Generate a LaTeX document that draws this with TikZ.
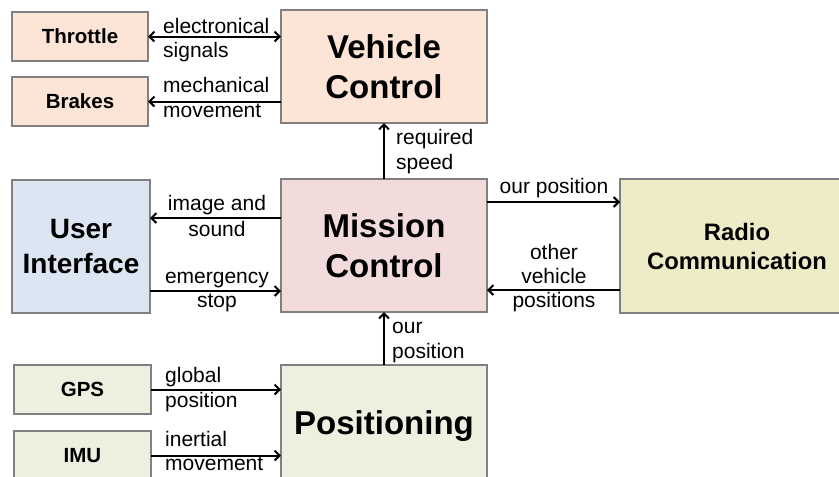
\documentclass[tikz,border=0pt]{standalone}
\usepackage{fontspec}
\setmainfont{Liberation Sans}
\usetikzlibrary{arrows.meta}

\definecolor{peach}{RGB}{252,228,214}
\definecolor{skyfill}{RGB}{220,230,242}
\definecolor{rosefill}{RGB}{242,220,219}
\definecolor{sagefill}{RGB}{235,241,222}
\definecolor{strawfill}{RGB}{238,236,199}
\definecolor{edgegray}{RGB}{128,128,128}

\tikzset{
  block/.style={draw=edgegray, line width=1.2pt, fill=#1, inner sep=0pt,
    outer sep=0pt, align=center},
  smallblock/.style={block=#1, font=\bfseries\fontsize{20.5}{24}\selectfont},
  bigblock/.style={block=#1, font=\bfseries\fontsize{33}{40}\selectfont},
  flow/.style={line width=2pt, -{Straight Barb[length=5pt,width=10pt]}},
  flowboth/.style={line width=2pt, {Straight Barb[length=5pt,width=10pt]}-{Straight Barb[length=5pt,width=10pt]}},
  lbl/.style={inner sep=0pt, font=\fontsize{21}{24}\selectfont},
}

\begin{document}
\begin{tikzpicture}[x=1pt, y=-1pt]
\useasboundingbox (0,0) rectangle (839,477);

% ---- blocks ----
\node[smallblock=peach, minimum width=136pt, minimum height=49pt] (thr) at (80,36.5) {Throttle};
\node[smallblock=peach, minimum width=136pt, minimum height=49pt] (brk) at (80,101.5) {Brakes};
\node[bigblock=peach, minimum width=206pt, minimum height=113pt] (vc) at (384,66.5) {Vehicle\\Control};

\node[block=skyfill, font=\bfseries\fontsize{28}{35}\selectfont,
      minimum width=138pt, minimum height=133pt] (ui) at (81,246.5) {User\\Interface};
\node[bigblock=rosefill, minimum width=206pt, minimum height=133pt] (mc) at (384,245.5) {Mission\\Control};
\node[block=strawfill, font=\bfseries\fontsize{23.8}{29}\selectfont,
      minimum width=234pt, minimum height=134pt] (radio) at (737,246) {Radio\\Communication};

\node[smallblock=sagefill, minimum width=137pt, minimum height=49pt] (gps) at (82.5,389.5) {GPS};
\node[smallblock=sagefill, minimum width=137pt, minimum height=49pt] (imu) at (82.5,455.5) {IMU};
\node[bigblock=sagefill, minimum width=206pt, minimum height=122pt] (pos) at (384,426) {Positioning};

% ---- rows used by the horizontal connectors ----
\coordinate (rowImage) at (0,218);
\coordinate (rowStop) at (0,291);
\coordinate (rowOut) at (0,202);
\coordinate (rowIn) at (0,290);

% ---- connectors ----
\draw[flowboth] (thr) -- (vc.west |- thr);
\draw[flow] (vc.west |- brk) -- (brk);
\draw[flow] (mc.north) -- (vc.south);
\draw[flow] (mc.west |- rowImage) -- (ui.east |- rowImage);
\draw[flow] (ui.east |- rowStop) -- (mc.west |- rowStop);
\draw[flow] (mc.east |- rowOut) -- (radio.west |- rowOut);
\draw[flow] (radio.west |- rowIn) -- (mc.east |- rowIn);
\draw[flow] (pos.north) -- (mc.south);
\draw[flow] (gps) -- (pos.west |- gps);
\draw[flow] (imu) -- (pos.west |- imu);

% ---- connector labels ----
\node[lbl, anchor=base west] (l1a) at (163,33) {electronical};
\node[lbl, anchor=base west] (l1b) at (163,57) {signals};
\node[lbl, anchor=base west] (l2a) at (163,92) {mechanical};
\node[lbl, anchor=base west] (l2b) at (163,117) {movement};
\node[lbl, anchor=base west] (l3a) at (396,144) {required};
\node[lbl, anchor=base west] (l3b) at (396,169) {speed};
\node[lbl, anchor=base] (l4a) at (217,210) {image and};
\node[lbl, anchor=base] (l4b) at (217,236) {sound};
\node[lbl, anchor=base] (l5a) at (217,283) {emergency};
\node[lbl, anchor=base] (l5b) at (217,307) {stop};
\node[lbl, anchor=base] (l6) at (554,193) {our position};
\node[lbl, anchor=base] (l7a) at (554,259) {other};
\node[lbl, anchor=base] (l7b) at (554,283) {vehicle};
\node[lbl, anchor=base] (l7c) at (554,307) {positions};
\node[lbl, anchor=base west] (l8a) at (392,333) {our};
\node[lbl, anchor=base west] (l8b) at (392,358) {position};
\node[lbl, anchor=base west] (l9a) at (165,382) {global};
\node[lbl, anchor=base west] (l9b) at (165,407) {position};
\node[lbl, anchor=base west] (l10a) at (165,446) {inertial};
\node[lbl, anchor=base west] (l10b) at (165,470) {movement};
\end{tikzpicture}
\end{document}
